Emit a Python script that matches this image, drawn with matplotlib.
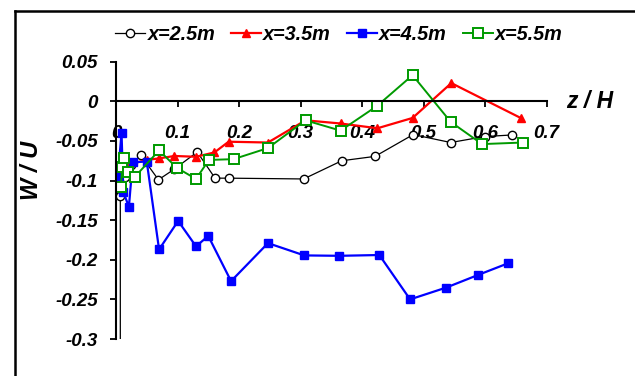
import numpy as np
import matplotlib

matplotlib.use("Agg")
import matplotlib.pyplot as plt
from matplotlib.lines import Line2D

plt.rcParams["font.family"] = ["Liberation Sans", "DejaVu Sans"]

# W/U profiles against z/H at four stations
z_25 = [0.007, 0.007, 0.015, 0.025, 0.040, 0.069, 0.094, 0.132, 0.161, 0.183,
        0.305, 0.367, 0.421, 0.483, 0.544, 0.599, 0.643]
w_25 = [-0.34, -0.120, -0.095, -0.080, -0.068, -0.099, -0.086, -0.064, -0.097, -0.097,
        -0.098, -0.075, -0.0695, -0.042, -0.052, -0.0445, -0.0425]

z_35 = [0.005, 0.020, 0.050, 0.070, 0.095, 0.130, 0.160, 0.183, 0.247,
        0.308, 0.365, 0.425, 0.482, 0.545, 0.659]
w_35 = [-0.100, -0.080, -0.074, -0.072, -0.069, -0.070, -0.0645, -0.051, -0.052,
        -0.024, -0.028, -0.034, -0.021, 0.023, -0.0215]

z_45 = [0.003, 0.009, 0.012, 0.021, 0.027, 0.050, 0.070, 0.101, 0.130, 0.150,
        0.187, 0.247, 0.306, 0.363, 0.428, 0.478, 0.537, 0.589, 0.637]
w_45 = [-0.095, -0.040, -0.115, -0.133, -0.077, -0.076, -0.187, -0.151, -0.183, -0.170,
        -0.227, -0.179, -0.1945, -0.195, -0.194, -0.250, -0.235, -0.219, -0.2045]

z_55 = [0.008, 0.010, 0.013, 0.020, 0.031, 0.070, 0.099, 0.130, 0.151, 0.191,
        0.247, 0.308, 0.365, 0.424, 0.482, 0.544, 0.595, 0.662]
w_55 = [-0.108, -0.083, -0.071, -0.089, -0.095, -0.062, -0.084, -0.098, -0.074, -0.073,
        -0.059, -0.024, -0.037, -0.006, 0.033, -0.026, -0.054, -0.052]

labels = ["x=2.5m", "x=3.5m", "x=4.5m", "x=5.5m"]
xticks = [0, 0.1, 0.2, 0.3, 0.4, 0.5, 0.6, 0.7]
xtick_labels = ["0", "0.1", "0.2", "0.3", "0.4", "0.5", "0.6", "0.7"]
yticks = [0.05, 0, -0.05, -0.1, -0.15, -0.2, -0.25, -0.3]
ytick_labels = ["0.05", "0", "-0.05", "-0.1", "-0.15", "-0.2", "-0.25", "-0.3"]

green = "#009a00"

fig = plt.figure(figsize=(6.35, 3.76), dpi=100)
ax = fig.add_axes([116 / 635, 1 - 339 / 376, (546.7 - 116) / 635, (339 - 61.7) / 376])

ax.plot(z_25, w_25, color="black", lw=0.9, marker="o", ms=6,
        mfc="white", mec="black", mew=1.0, label=labels[0])
ax.plot(z_35, w_35, color="red", lw=1.6, marker="^", ms=6,
        mfc="red", mec="red", label=labels[1])
ax.plot(z_45, w_45, color="blue", lw=1.6, marker="s", ms=6,
        mfc="blue", mec="blue", label=labels[2])
ax.plot(z_55, w_55, color=green, lw=1.4, marker="s", ms=6.5,
        mfc="white", mec=green, mew=1.4, label=labels[3])

ax.set_xlim(0, 0.7)
ax.set_ylim(-0.3, 0.05)

for side in ["top", "right"]:
    ax.spines[side].set_visible(False)
ax.spines["bottom"].set_position(("data", 0))
ax.spines["bottom"].set_linewidth(1.5)
ax.spines["left"].set_linewidth(1.5)

tick_font = dict(fontsize=13.5, fontweight="bold", fontstyle="italic")
ax.set_xticks(xticks)
ax.set_xticklabels(xtick_labels, **tick_font)
ax.set_yticks(yticks)
ax.set_yticklabels(ytick_labels, **tick_font)
ax.tick_params(axis="x", direction="out", length=4, width=1.3, pad=13)
ax.tick_params(axis="y", direction="out", length=4, width=1.3, pad=9)

fig.text(590 / 635, 1 - 101.7 / 376, "z / H", ha="center", va="center",
         fontsize=16.5, fontweight="bold", fontstyle="italic")
fig.text(32 / 635, 1 - 170 / 376, "W / U", ha="center", va="center", rotation=90,
         fontsize=17, fontweight="bold", fontstyle="italic")

leg = ax.legend(loc="center", bbox_to_anchor=(339 / 635, 1 - 34 / 376),
                bbox_transform=fig.transFigure, ncol=4, frameon=False,
                handlelength=1.5, handletextpad=0.12, columnspacing=0.8,
                borderpad=0, prop=dict(size=14.3, weight="bold", style="italic"))

# outer chart frame
fig.add_artist(Line2D([15 / 635, 15 / 635], [0, 1 - 11 / 376], transform=fig.transFigure,
                      color="black", lw=1.8))
fig.add_artist(Line2D([15 / 635, 1], [1 - 11 / 376, 1 - 11 / 376], transform=fig.transFigure,
                      color="black", lw=1.8))

fig.savefig("out.png", dpi=100)
